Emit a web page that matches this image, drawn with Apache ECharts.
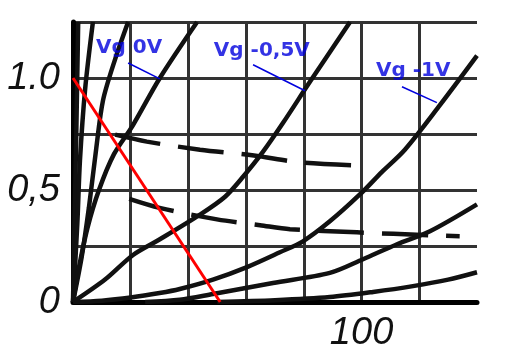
<!DOCTYPE html>
<html>
<head>
<meta charset="UTF-8">
<title>Anode characteristics</title>
<script src="https://cdn.jsdelivr.net/npm/echarts@6/dist/echarts.min.js"></script>
<style>
    html, body { margin: 0; background: #fff; }
    #chart { width: 508px; height: 352px; }
</style>
</head>
<body>
<div id="chart"></div>
<script>
    // curves, [Ua, Ia]
    const vgPos3 = [[0, 0], [0.6, 0.4], [1.2, 0.8], [1.8, 1.25]];
    const vgPos2 = [[0, 0], [1.5, 0.35], [2.4, 0.63], [4.2, 0.95], [6.9, 1.25]];
    const vgPos1 = [[0, 0], [3, 0.2], [5.5, 0.42], [8, 0.68], [10.4, 0.9], [14.5, 1.08], [19.1, 1.25]];
    const vg0 = [[0, 0], [2, 0.15], [5, 0.33], [9, 0.5], [14.2, 0.66], [20.8, 0.79], [30.1, 1.0], [43, 1.25]];
    const vgM05 = [[0, 0], [11.1, 0.1], [20.8, 0.21], [30.1, 0.28], [44, 0.39], [52.7, 0.47], [59, 0.56],
                   [65.8, 0.67], [72.8, 0.8], [82.1, 0.983], [96, 1.25]];
    const vgM1 = [[0, 0], [10, 0.006], [20, 0.02], [30, 0.04], [37, 0.058], [48.5, 0.1], [60.3, 0.156],
                  [71.7, 0.222], [79.7, 0.271], [89, 0.36], [99.4, 0.48], [107, 0.58], [115, 0.68],
                  [127.2, 0.88], [140, 1.1]];
    const vgM15 = [[25, 0], [37, 0.01], [48.5, 0.036], [69.3, 0.085], [89, 0.13], [100.5, 0.191],
                   [112.3, 0.258], [123.7, 0.316], [140, 0.436]];
    const vgM2 = [[50, 0], [70, 0.008], [89, 0.022], [104, 0.045], [117.8, 0.071], [130, 0.1], [140, 0.133]];

    const dashUpper = [[14.6, 0.747], [25.6, 0.716], [44, 0.68], [62.7, 0.654], [78.7, 0.623], [100.8, 0.609]];
    const dashLower = [[19.5, 0.46], [30, 0.42], [49.9, 0.369], [64.8, 0.343], [75.2, 0.325], [98.4, 0.311],
                       [123.7, 0.298], [134, 0.294]];

    const loadLine = [[0, 1.0], [51, 0]];

    const labelTexts = ['Vg 0V', 'Vg -0,5V', 'Vg -1V'];
    const labelPos = [[8.0, 1.134], [48.8, 1.12], [105.0, 1.034]];
    const pointers = [
        [[19.1, 1.067], [30.1, 0.996]],
        [[62.4, 1.059], [80.4, 0.943]],
        [[114, 0.961], [126.1, 0.89]]
    ];

    const yLabelValues = [0, 0.5, 1];
    const yLabelTexts = ['0', '0,5', '1.0'];
    const xLabelValues = [100];
    const xLabelTexts = ['100'];

    const curves = [vgPos3, vgPos2, vgPos1, vg0, vgM05, vgM1, vgM15, vgM2];

    function solid(data){
        return {
            type: 'line', data: data, showSymbol: false, smooth: 0.3, silent: true, z: 3,
            lineStyle: {color: '#111', width: 4.5}
        };
    }
    function dashed(data){
        return {
            type: 'line', data: data, showSymbol: false, smooth: 0.3, silent: true, z: 3,
            lineStyle: {color: '#111', width: 4.5, type: [46, 18]}
        };
    }

    const series = curves.map(solid);
    series.push(dashed(dashUpper));
    series.push(dashed(dashLower));
    series.push({
        type: 'line', data: loadLine, showSymbol: false, silent: true, z: 5,
        lineStyle: {color: '#ff0000', width: 3}
    });
    pointers.forEach(p => series.push({
        type: 'line', data: p, showSymbol: false, silent: true, z: 6,
        lineStyle: {color: '#0000dd', width: 1.5}
    }));
    series.push({
        type: 'scatter', symbolSize: 0, silent: true, z: 7,
        data: labelPos.map((p, i) => ({value: p, name: labelTexts[i]})),
        label: {
            show: true, position: 'right', distance: 0,
            formatter: p => p.name,
            color: '#0000dd', fontFamily: 'DejaVu Sans', fontWeight: 'bold', fontSize: 20
        }
    });

    function pick(values, texts){
        return v => {
            const i = values.findIndex(x => Math.abs(x - v) < 1e-6);
            return i < 0 ? '' : texts[i];
        };
    }

    const chart = echarts.init(document.getElementById('chart'));
    chart.setOption({
        animation: false,
        backgroundColor: '#fff',
        grid: {left: 73, top: 22, right: 31, bottom: 49},
        xAxis: {
            type: 'value', min: 0, max: 140, interval: 20,
            axisLine: {show: true, onZero: false, lineStyle: {color: '#000', width: 5}},
            axisTick: {show: false},
            axisLabel: {
                formatter: pick(xLabelValues, xLabelTexts), margin: 12,
                fontFamily: 'Liberation Sans', fontStyle: 'italic', fontSize: 38, color: '#111'
            },
            splitLine: {show: true, showMaxLine: false, lineStyle: {color: '#333', width: 3}}
        },
        yAxis: {
            type: 'value', min: 0, max: 1.25, interval: 0.25,
            axisLine: {show: true, onZero: false, lineStyle: {color: '#000', width: 5}},
            axisTick: {show: false},
            axisLabel: {
                formatter: pick(yLabelValues, yLabelTexts), margin: 13,
                fontFamily: 'Liberation Sans', fontStyle: 'italic', fontSize: 38, color: '#111'
            },
            splitLine: {show: true, lineStyle: {color: '#333', width: 3}}
        },
        series: series
    });
</script>
</body>
</html>
